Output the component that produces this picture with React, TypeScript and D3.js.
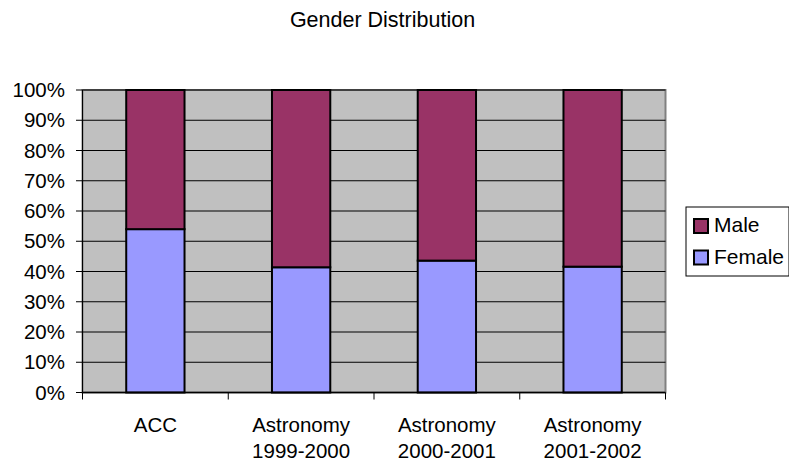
import React from "react";
import * as d3 from "d3";

const categories: string[][] = [
  ["ACC"],
  ["Astronomy", "1999-2000"],
  ["Astronomy", "2000-2001"],
  ["Astronomy", "2001-2002"],
];
const femaleShare: number[] = [0.54, 0.414, 0.436, 0.416];
const maleShare: number[] = femaleShare.map((f) => 1 - f);
const yTicks: number[] = [0, 0.1, 0.2, 0.3, 0.4, 0.5, 0.6, 0.7, 0.8, 0.9, 1.0];
const seriesNames: string[] = ["Male", "Female"];

const COLORS: Record<string, string> = { Male: "#993366", Female: "#9999FF" };
const FONT = "Arial, 'Liberation Sans', Helvetica, sans-serif";

export default function App() {
  const W = 789;
  const H = 461;
  const plot = { left: 82.5, right: 665.5, top: 90, bottom: 392.5 };

  const keys = categories.map((c) => c.join(" "));
  const x = d3
    .scaleBand<string>()
    .domain(keys)
    .range([plot.left, plot.right])
    .paddingInner(0.6)
    .paddingOuter(0.3);
  const y = d3.scaleLinear().domain([0, 1]).range([plot.bottom, plot.top]);

  const rows = keys.map((k, i) => ({ key: k, Female: femaleShare[i], Male: maleShare[i] }));
  const stacked = d3.stack<any>().keys(["Female", "Male"])(rows);

  const step = x.step();
  const boundaries = d3.range(keys.length + 1).map((i) => plot.left + i * step);

  return (
    <svg
      width={W}
      height={H}
      style={{ position: "absolute", left: 0, top: 0, display: "block" }}
      fontFamily={FONT}
    >
      <rect x={0} y={0} width={W} height={H} fill="#ffffff" />
      <text x={382.5} y={27.3} textAnchor="middle" fontSize={21.5} fill="#000">
        Gender Distribution
      </text>

      {/* plot area */}
      <rect
        x={plot.left}
        y={plot.top}
        width={plot.right - plot.left}
        height={plot.bottom - plot.top}
        fill="#C0C0C0"
        stroke="#808080"
        strokeWidth={2}
      />

      {/* gridlines */}
      {yTicks.slice(1).map((t) => (
        <line
          key={"g" + t}
          x1={plot.left}
          x2={plot.right}
          y1={y(t)}
          y2={y(t)}
          stroke="#000"
          strokeWidth={1}
        />
      ))}

      {/* bars */}
      {stacked.map((s) => (
        <g key={s.key}>
          {s.map((d, i) => (
            <rect
              key={i}
              x={x(keys[i])}
              y={y(d[1])}
              width={x.bandwidth()}
              height={y(d[0]) - y(d[1])}
              fill={COLORS[s.key]}
              stroke="#000"
              strokeWidth={2}
            />
          ))}
        </g>
      ))}

      {/* y axis */}
      <line x1={plot.left} x2={plot.left} y1={plot.top} y2={plot.bottom} stroke="#000" strokeWidth={1} />
      {yTicks.map((t) => (
        <g key={"y" + t}>
          <line x1={76} x2={plot.left} y1={y(t)} y2={y(t)} stroke="#000" strokeWidth={1} />
          <text x={65} y={y(t)} dy="0.35em" textAnchor="end" fontSize={20.5} fill="#000">
            {d3.format(".0%")(t)}
          </text>
        </g>
      ))}

      {/* x axis */}
      <line x1={plot.left} x2={plot.right} y1={plot.bottom} y2={plot.bottom} stroke="#000" strokeWidth={1.5} />
      {boundaries.map((bx, i) => (
        <line key={"xt" + i} x1={bx} x2={bx} y1={plot.bottom} y2={plot.bottom + 7} stroke="#000" strokeWidth={1} />
      ))}
      {categories.map((lines, i) => (
        <text
          key={"xl" + i}
          x={(x(keys[i]) as number) + x.bandwidth() / 2}
          y={431.5}
          textAnchor="middle"
          fontSize={20.5}
          fill="#000"
        >
          {lines.map((ln, j) => (
            <tspan key={j} x={(x(keys[i]) as number) + x.bandwidth() / 2} dy={j === 0 ? 0 : 26.5}>
              {ln}
            </tspan>
          ))}
        </text>
      ))}

      {/* legend */}
      <rect x={686} y={207} width={103} height={69} fill="#fff" stroke="#000" strokeWidth={1} />
      {seriesNames.map((name, i) => (
        <g key={name} transform={`translate(0, ${i * 31.5})`}>
          <rect x={694} y={219} width={14} height={14} fill={COLORS[name]} stroke="#000" strokeWidth={2} />
          <text x={714} y={232} fontSize={21} fill="#000">
            {name}
          </text>
        </g>
      ))}
    </svg>
  );
}
